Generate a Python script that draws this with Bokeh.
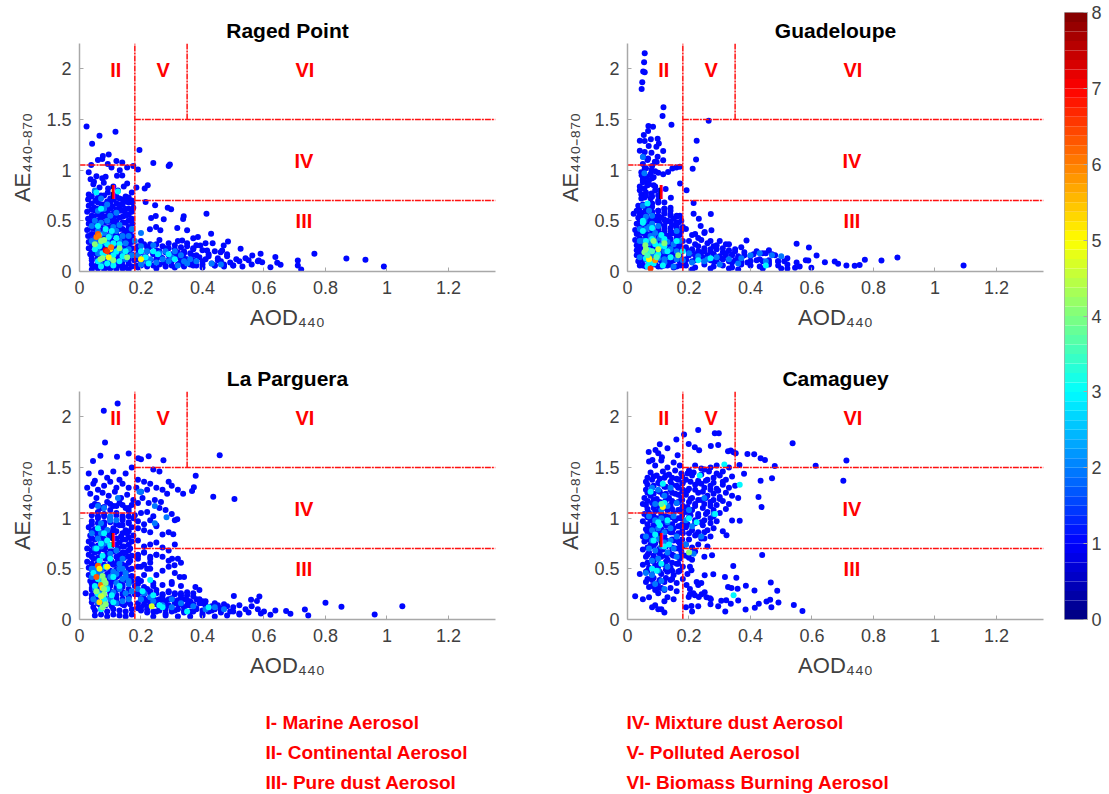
from bokeh.plotting import figure
from bokeh.layouts import row, column
from bokeh.models import Range1d, FixedTicker, LinearColorMapper, ColumnDataSource
from bokeh.core.properties import value
from bokeh.embed import file_html
from bokeh.resources import INLINE

FONT = "Liberation Sans"
x_ticks = [0, .2, .4, .6, .8, 1, 1.2]
x_tick_labels = ["0", "0.2", "0.4", "0.6", "0.8", "1", "1.2"]
y_ticks = [0, .5, 1, 1.5, 2]
y_tick_labels = ["0", "0.5", "1", "1.5", "2"]
cbar_ticks = [0, 1, 2, 3, 4, 5, 6, 7, 8]
legend_left = ["I- Marine Aerosol", "II- Continental Aerosol", "III- Pure dust Aerosol"]
legend_right = ["IV- Mixture dust Aerosol", "V- Polluted Aerosol", "VI- Biomass Burning Aerosol"]
region_names = ["I", "II", "III", "IV", "V", "VI"]
region_aod = [.11, .118, .73, .73, .272, .733]
region_ae = [.785, 1.99, .498, 1.09, 1.99, 1.99]
# class thresholds
aod_low, aod_high, ae_low, ae_mid, ae_high = .18, .35, .7, 1.05, 1.5

# ---------- Raged Point
rp_aod0 = [.04,.06,.08,.1,.12,.14,.16, .04,.06,.08,.1,.12,.14,.16, .04,.06,.08,.1,.12,.14,.16, .04,.06,.08,.1,.12,.14,.16, .04,.06,.08,.1,.12,.14,.16,
 .04,.06,.08,.1,.12,.14,.16, .04,.06,.08,.1,.12,.14,.16, .04,.06,.08,.1,.12,.14,.16, .04,.06,.08,.1,.12,.14,.16, .04,.06,.08,.1,.12,.14,.16,
 .04,.06,.08,.1,.12,.14,.16, .04,.06,.08,.1,.12,.14,.16, .04,.06,.08,.1,.12,.14,.16,
 .19,.21,.23,.25,.27,.29,.31,.33,.35,.37, .2,.22,.24,.26,.28,.3,.32,.34,.36,.38,.42, .19,.21,.23,.25,.27,.29,.31,.33,.35,.37,.41,.45, .2,.22,.24,.26,.28,.3,.32,.34,.36,.38,.4,.44,.47,.5]
rp_ae0 = [.74,.73,.75,.72,.74,.71,.73, .67,.68,.66,.68,.67,.66,.68, .61,.62,.6,.62,.61,.6,.62, .55,.56,.54,.56,.55,.54,.56, .49,.5,.48,.5,.49,.48,.5,
 .43,.44,.42,.44,.43,.42,.44, .37,.38,.36,.38,.37,.36,.38, .31,.32,.3,.32,.31,.3,.32, .25,.26,.24,.26,.25,.24,.26, .19,.2,.18,.2,.19,.18,.2,
 .13,.14,.12,.14,.13,.12,.14, .07,.08,.06,.08,.07,.06,.08, .02,.03,.02,.03,.02,.03,.02,
 .25,.27,.24,.27,.25,.23,.26,.24,.25,.23, .19,.2,.18,.2,.19,.17,.19,.18,.18,.16,.17, .12,.13,.11,.12,.13,.11,.13,.12,.12,.11,.12,.11, .06,.07,.06,.07,.06,.06,.07,.06,.07,.06,.07,.06,.07,.06]
rp_aod1 = [.023,.065,.117,.041,.195,.24,.29,.294,.095,.076,.074,.06,.12,.139,.038,.092,.175,.155,.19,.131,.104,
 .03,.036,.055,.074,.085,.122,.139,.047,.079,.155,.144,.093,.185,.222,.212,.045,.065,.11,.125,.17,
 .413,.339,.337,.287,.298,.246,.215,.274,.248,.233,.318,.35,.428,.249,.229,.263,.385,.37,.41,.433,.483,.469,.524,.334,.393,.415,.459,.464,.562,.589,.583,.594,.637,.654,.621,.643,.71,.71,.721,.764,.868,.93,.99,
 .2,.23,.26,.29,.32,.35,.38,.19,.22,.25,.28,.31,.34,.37,.4,.44,.48,
 .19,.215,.24,.265,.29,.315,.34,.365,.39,.42,.45,.48,.51,.54,
 .2,.225,.25,.275,.3,.325,.35,.375,.4,.43,.46,.49,.52,.55,.58,
 .19,.22,.25,.28,.31,.34,.37,.4,.44,.47,.5,.53,.56,
 .03,.05,.07,.092,.11,.13,.15,.17, .028,.052,.068,.09,.112,.128,.152,.172, .03,.048,.072,.088,.108,.132,.148,.175,
 .025,.05,.07,.09,.112,.13,.15,.17, .028,.046,.07,.092,.11,.13,.152,.17, .03,.05,.068,.09,.11,.128,.15,.172,
 .025,.05,.07,.09,.11,.13,.15,.17, .028,.05,.07,.09,.11,.13,.15,.17, .03,.05,.07,.09,.11,.13,.15,.17,
 .03,.05,.07,.09,.11,.13,.15,.17, .035,.05,.07,.09,.11,.13,.15,.17, .04,.06,.08,.1,.12,.14,.16,.178, .05,.07,.09,.11,.13,.15,.17,.185]
rp_ae1 = [1.43,1.34,1.38,1.26,1.2,1.07,1.04,1.056,1.155,1.14,1.11,1.1,1.09,1.076,1.05,1.06,1.04,1.026,1.006,1.0,1.026,
 .98,.91,.94,.92,.934,.944,.947,.885,.875,.868,.84,.818,.828,.85,.818,.86,.83,.84,.8,.78,
 .571,.545,.518,.63,.614,.653,.686,.515,.548,.528,.429,.406,.373,.439,.416,.406,.34,.327,.28,.28,.297,.257,.224,.307,.257,.208,.19,.208,.158,.175,.109,.092,.142,.066,.043,.086,.109,.059,.02,.175,.129,.115,.05,
 .3,.27,.31,.28,.3,.28,.26,.22,.24,.21,.23,.22,.2,.22,.21,.2,.17,
 .17,.15,.17,.14,.16,.15,.13,.16,.14,.15,.13,.15,.12,.13,
 .1,.08,.11,.09,.1,.08,.11,.09,.1,.08,.1,.09,.1,.11,.1,
 .04,.05,.03,.05,.04,.05,.06,.04,.06,.05,.06,.05,.07,
 .76,.79,.75,.78,.76,.72,.74,.7, .71,.7,.72,.69,.71,.66,.69,.68, .65,.63,.66,.62,.64,.65,.62,.63,
 .59,.6,.57,.6,.58,.6,.57,.59, .52,.54,.53,.55,.52,.53,.55,.52, .47,.48,.46,.49,.47,.46,.48,.47,
 .41,.42,.4,.43,.41,.42,.4,.41, .35,.36,.34,.35,.36,.34,.36,.35, .29,.3,.28,.3,.29,.28,.3,.29,
 .23,.24,.22,.24,.23,.22,.24,.23, .17,.18,.16,.18,.17,.16,.18,.17, .11,.12,.1,.11,.12,.1,.12,.11, .05,.06,.04,.05,.06,.04,.05,.06]
rp_aod2 = [.05,.07,.09,.06,.08,.1,.12,.05,.07,.09,.11,.13,.06,.08,.1,.12,.14,.05,.07,.09,.11,.13,.15,.06,.08,.1,.12,.14,.16,.18,.2,.22,.24,.19,.21,.23,.26,.28,.3,.33,.36,.25,.29,.32,.35,.38,.43,.46,.2,.17,.04,.06,.04,.15,.17,.11,.07,.16,.31,.27,.34,.2,.22]
rp_ae2 = [.8,.72,.66,.6,.62,.55,.58,.5,.48,.5,.44,.46,.4,.38,.36,.4,.35,.3,.28,.3,.27,.3,.28,.2,.18,.22,.19,.2,.22,.3,.25,.2,.26,.16,.14,.12,.18,.2,.14,.16,.12,.09,.1,.06,.08,.1,.08,.07,.38,.42,.45,.18,.3,.12,.16,.09,.07,.35,.2,.12,.1,.07,.1]
rp_aod3 = [.055,.07,.06,.085,.075,.095,.065,.11,.12,.08,.1,.13,.09,.14,.06,.11,.2,.215,.24,.29,.31,.225,.255,.125,.105,.05,.075,.09,.11,.13,.15,.07,.065,.12]
rp_ae3 = [.78,.62,.45,.42,.3,.34,.25,.28,.2,.17,.13,.27,.08,.15,.1,.06,.2,.14,.2,.17,.12,.08,.17,.79,.4,.22,.18,.27,.16,.1,.2,.05,.36,.33]
rp_hot_aod = [.055,.06,.063,.07,.1,.085,.09,.095,.075,.103,.068,.2,.155,.05,.13,.11,.08]
rp_hot_ae = [.34,.37,.35,.3,.22,.21,.2,.14,.13,.24,.12,.12,.14,.27,.23,.11,.31]
rp_hot_den = [6,6.3,6,4,5,7,6.5,5,4,6,4,5,4,4,4,4,4]

# ---------- Guadeloupe
gl_aod0 = [.04,.06,.08,.1,.12,.14, .04,.06,.08,.1,.12,.14,.16, .04,.06,.08,.1,.12,.14,.16, .04,.06,.08,.1,.12,.14,.16, .04,.06,.08,.1,.12,.14,.16,
 .04,.06,.08,.1,.12,.14,.16, .04,.06,.08,.1,.12,.14,.16, .04,.06,.08,.1,.12,.14,.16, .04,.06,.08,.1,.12,.14,.16, .04,.06,.08,.1,.12,.14,.16, .05,.07,.09,.11,.13,.15,.17,
 .19,.21,.23,.25,.27,.29,.31,.33,.35, .2,.22,.24,.26,.28,.3,.32,.34,.36,.38,.41,.45,.47, .19,.21,.23,.25,.27,.29,.31,.33,.35,.37,.39,.42,.44,.46,.49,.51,
 .05,.065,.08,.095,.045,.06,.075,.09,.05,.065,.08]
gl_ae0 = [.63,.62,.64,.6,.62,.63, .57,.56,.58,.55,.57,.56,.54, .51,.5,.52,.5,.51,.49,.48, .45,.44,.46,.44,.45,.43,.44, .39,.38,.4,.38,.39,.37,.38,
 .33,.34,.32,.34,.33,.32,.34, .28,.27,.29,.27,.28,.26,.27, .23,.22,.24,.22,.23,.21,.23, .18,.17,.19,.17,.18,.16,.18, .13,.12,.14,.12,.13,.11,.13, .06,.05,.07,.05,.06,.04,.06,
 .22,.21,.2,.23,.2,.22,.19,.21,.2, .16,.17,.15,.16,.17,.15,.16,.17,.15,.16,.17,.18,.17, .11,.1,.12,.1,.11,.1,.12,.1,.11,.1,.09,.11,.1,.09,.1,.1,
 1.06,1.1,1.04,1.08,.76,.78,.72,.8,.9,.88,.92]
gl_aod1 = [.056,.054,.051,.056,.048,.046,.117,.114,.143,.264,.068,.083,.067,.053,.04,.056,.076,.098,.102,.094,.116,.04,.056,.069,.078,.098,.116,.051,.067,.089,
 .225,.223,.212,.17,.159,.146,.132,.116,.1,.078,.056,.046,.062,.171,.192,.124,.141,.05,.04,.065,.085,.055,.078,.1,
 .215,.215,.232,.271,.238,.251,.273,.22,.387,.55,.59,.615,.772,.826,.878,1.093,.712,.739,.755,.685,.674,.642,.598,.588,.545,.52,
 .045,.06,.075,.09,.05,.07,.085,.04,.055,.07,.09,.105,.045,.06,.08,.1,.12,
 .19,.21,.23,.25,.27,.2,.22,.24,.26,.28,.3,.32,.19,.21,.23,.25,.27,.29,.31,.33,.35,.37,
 .2,.22,.24,.26,.28,.3,.32,.34,.36,.38,.4,.42,.44,.46,.48,.19,.22,.25,.28,.31,.34,.37,.4,.43,.46,.49,.52,.55,.58,
 .19,.22,.25,.28,.31,.34,.37,.4,.43,.46,.49,.52,.21,.27,.33,.36,.44,.5,.56,
 .02,.035,.05,.065,.08,.1,.12,.14,.16, .03,.045,.06,.08,.1,.12,.14,.17, .035,.05,.07,.09,.11,.13,.15,.175, .03,.045,.065,.085,.105,.125,.145,.165,.18,
 .025,.04,.06,.08,.1,.12,.14,.16,.175, .03,.05,.07,.09,.11,.13,.15,.17, .025,.04,.06,.08,.1,.12,.14,.16,.18, .03,.05,.07,.09,.11,.13,.15,.17,
 .03,.05,.07,.09,.11,.13,.15,.17, .03,.05,.07,.09,.11,.13,.15,.17, .035,.05,.07,.09,.11,.13,.15,.17, .04,.06,.08,.1,.12,.14,.16,.18]
gl_ae1 = [2.155,2.066,1.974,1.967,1.868,1.802,1.62,1.535,1.449,1.488,1.436,1.429,1.386,1.347,1.29,1.287,1.304,1.31,1.264,1.231,1.188,1.191,1.18,1.238,1.172,1.132,1.099,1.132,1.115,1.082,
 1.29,1.106,1.013,1.033,1.026,1.016,.983,.96,.974,1.0,1.016,.95,.934,.868,.802,.815,.729,.88,.802,.85,.85,.73,.77,.75,
 .677,.571,.521,.568,.449,.389,.406,.37,.307,.274,.238,.158,.116,.109,.139,.06,.059,.056,.063,.076,.099,.092,.036,.109,.036,.03,
 .98,1.02,.96,.99,.91,.9,.93,.84,.82,.86,.84,.8,.72,.75,.74,.7,.68,
 .42,.36,.33,.38,.3,.3,.27,.31,.28,.25,.3,.27,.24,.22,.25,.2,.22,.26,.23,.27,.22,.24,
 .18,.16,.19,.15,.17,.14,.18,.16,.13,.19,.15,.2,.18,.21,.16,.12,.11,.13,.1,.12,.09,.13,.1,.12,.11,.1,.13,.09,.11,
 .06,.04,.07,.05,.06,.04,.07,.06,.05,.07,.06,.07,.02,.03,.03,.02,.03,.03,.05,
 .57,.65,.66,.63,.67,.68,.62,.6,.55, .6,.58,.61,.59,.6,.58,.55,.55, .53,.55,.52,.54,.53,.5,.52,.5, .47,.49,.48,.5,.47,.49,.46,.48,.44,
 .41,.43,.42,.44,.41,.42,.4,.43,.4, .37,.38,.36,.38,.37,.35,.38,.36, .31,.32,.3,.33,.31,.32,.3,.32,.3, .26,.27,.25,.27,.26,.25,.27,.26,
 .21,.22,.2,.22,.21,.2,.22,.21, .16,.17,.15,.17,.16,.15,.17,.16, .1,.11,.09,.11,.1,.09,.11,.1, .06,.05,.07,.05,.06,.07,.05,.06]
gl_aod2 = [.05,.07,.055,.08,.06,.04,.075,.09,.105,.05,.07,.09,.11,.13,.15,.17,.06,.08,.1,.12,.14,.16,.04,.06,.08,.1,.12,.14,.16,.18,.2,.23,.26,.29,.33,.37,.4,.43,.47,.5,.45,.36,.21,.3,.05,.055,.06,.08,.1,.04,.07,.09,.12,.15,.16,.25]
gl_ae2 = [.65,.6,.5,.47,.42,.42,.35,.38,.33,.3,.28,.3,.27,.29,.27,.3,.22,.2,.23,.2,.22,.2,.14,.12,.15,.13,.12,.14,.12,.11,.18,.15,.12,.14,.12,.13,.16,.18,.16,.15,.1,.08,.09,.07,1.13,.97,.54,.55,.45,.3,.44,.16,.09,.05,.4,.1]
gl_aod3 = [.05,.08,.06,.11,.09,.12,.07,.1,.13,.06,.085,.14,.115,.065,.105,.16,.18,.45,.27,.23,.05,.065,.05,.08,.12,.095,.07]
gl_ae3 = [.48,.43,.3,.36,.27,.25,.21,.17,.2,.13,.08,.14,.06,.05,.25,.3,.2,.06,.13,.11,.5,.67,.4,.32,.32,.15,.09]
gl_hot_aod = [.06,.07,.055,.09,.085,.075,.07,.1,.058,.12,.165,.08,.095,.065]
gl_hot_ae = [.22,.13,.19,.11,.3,.03,.12,.22,.26,.28,.16,.2,.14,.16]
gl_hot_den = [4,5.3,4,5.8,4,6.5,5,4.5,4,4,4,3.6,3.6,3.6]

# ---------- La Parguera
lp_aod0 = [.04,.06,.08,.1,.12,.14,.16, .04,.06,.08,.1,.12,.14,.16, .04,.06,.08,.1,.12,.14,.16, .04,.06,.08,.1,.12,.14,.16, .04,.06,.08,.1,.12,.14,.16, .04,.06,.08,.1,.12,.14,.16,
 .04,.06,.08,.1,.12,.14,.16, .04,.06,.08,.1,.12,.14,.16, .04,.06,.08,.1,.12,.14,.16, .04,.06,.08,.1,.12,.14,.16, .04,.06,.08,.1,.12,.14,.16, .04,.06,.08,.1,.12,.14,.16,
 .04,.06,.08,.1,.12,.14,.16, .04,.06,.08,.1,.12,.14,.16, .04,.06,.08,.1,.12,.14,.16, .05,.07,.09,.11,.13,.15,.17, .05,.07,.09,.11,.13,.15,.17,
 .19,.21,.23,.25,.27,.29,.31,.33,.35, .2,.22,.24,.26,.28,.3,.32,.34,.36,.38,.4, .19,.21,.23,.25,.27,.29,.31,.33,.35,.37,.39,.41,.43,.45,.47, .2,.22,.24,.26,.28,.3,.32,.34,.36,.38,.4,.42,.44,.46,.5,
 .19,.2,.21,.22,.23,.19,.2,.22,.24,.19,.21,.23,.25,.19,.21,.23,.25]
lp_ae0 = [1.12,1.13,1.11,1.14,1.12,1.13,1.1, 1.03,1.02,1.04,1.01,1.03,1.0,1.02, .94,.95,.93,.96,.94,.93,.95, .87,.86,.88,.86,.87,.85,.87, .8,.81,.79,.81,.8,.79,.81, .74,.73,.75,.73,.74,.72,.74,
 .68,.67,.69,.67,.68,.66,.68, .62,.61,.63,.61,.62,.6,.62, .55,.56,.54,.56,.55,.54,.56, .49,.48,.5,.48,.49,.47,.49, .42,.41,.43,.41,.42,.4,.42, .35,.36,.34,.36,.35,.34,.36,
 .29,.28,.3,.28,.29,.27,.29, .21,.22,.2,.22,.21,.2,.22, .17,.16,.18,.16,.17,.15,.17, .09,.1,.08,.1,.09,.08,.1, .04,.05,.03,.05,.04,.03,.05,
 .27,.25,.28,.26,.24,.27,.25,.26,.24, .2,.19,.21,.2,.18,.21,.19,.2,.18,.2,.18, .16,.15,.17,.15,.16,.14,.16,.15,.14,.15,.16,.14,.13,.14,.15, .09,.1,.08,.09,.1,.08,.1,.09,.08,.1,.09,.08,.1,.09,.08,
 .6,.52,.44,.5,.56,.35,.38,.3,.33,.97,.94,.98,.93,.64,.66,.62,.64]
lp_aod1 = [.124,.079,.083,.068,.044,.122,.16,.191,.2,.225,.273,.456,.378,.372,.366,.337,.435,.504,.318,.305,.301,.309,.326,.377,.502,.585,.558,.577,.8,.852,.733,.744,.672,.686,.637,.621,.96,1.05,
 .03,.05,.07,.09,.11,.13,.15,.17, .025,.045,.06,.08,.1,.12,.14,.16, .035,.055,.075,.095,.115,.135,.155,.175, .05,.07,.09,.11,.13,.15,.17, .06,.08,.1,.12,.14,.16,.18,
 .04,.06,.08,.1,.12,.14,.16,.175, .03,.05,.07,.09,.11,.13,.15,.17, .035,.055,.075,.095,.115,.135,.155,.175, .03,.05,.07,.09,.11,.13,.15,.17,
 .025,.045,.065,.085,.105,.125,.145,.165, .03,.05,.07,.09,.11,.13,.15,.17, .025,.045,.065,.085,.105,.125,.145,.165, .03,.05,.07,.09,.11,.13,.15,.17,
 .03,.05,.07,.09,.11,.13,.15,.17, .035,.05,.07,.09,.11,.13,.15,.17, .02,.04,.06,.08,.1,.12,.14,.16,.18, .04,.06,.08,.1,.12,.14,.16,.18, .045,.065,.085,.105,.125,.145,.165,
 .185,.2,.22,.24,.26,.19,.21,.23,.25,.27,.29,.19,.205,.225,.245,.265,.285,.3,.32,.2,.22,.24,.26,.28,.3,.19,.21,.23,.25,.27,.29,.31,
 .19,.21,.23,.25,.27,.29,.31,.19,.21,.23,.25,.27,.29,.32,.33,.19,.21,.23,.25,.27,.29,.31,.34,.19,.21,.24,.27,.3,.33,.3,
 .19,.21,.23,.25,.27,.29,.31,.33,.35,.37,.39,.19,.21,.23,.25,.27,.29,.31,.33,.35,.37,.39,.41,.44,
 .2,.22,.24,.26,.28,.3,.32,.34,.36,.38,.4,.42,.44,.46,.48,.5,.52,.54,.56,.58,.19,.22,.25,.28,.31,.34,.37,.4,.43,.46,.49,.52,.55,.6,.59,
 .2,.24,.28,.32,.36,.4,.44,.48,.52]
lp_ae1 = [2.132,2.059,1.746,1.617,1.564,1.607,1.637,1.591,1.581,1.611,1.571,1.62,1.419,1.304,1.267,1.241,1.211,1.188,.99,.842,.6,.535,.419,.32,.231,.228,.195,.182,.165,.125,.099,.04,.083,.056,.089,.046,.05,.13,
 1.44,1.37,1.45,1.4,1.46,1.38,1.44,1.5, 1.3,1.34,1.28,1.32,1.36,1.3,1.34,1.3, 1.24,1.2,1.25,1.22,1.26,1.2,1.23,1.18, 1.14,1.1,1.16,1.12,1.15,1.1,1.13, 1.06,1.02,1.08,1.05,1.02,1.07,1.03,
 .97,1.0,.96,.99,.95,.98,.96,1.0, .91,.89,.92,.88,.9,.93,.88,.91, .83,.85,.82,.84,.86,.82,.85,.83, .77,.79,.76,.78,.8,.76,.79,.77,
 .7,.72,.69,.71,.73,.7,.72,.7, .64,.66,.63,.65,.67,.64,.66,.63, .57,.6,.58,.6,.57,.59,.61,.58, .51,.53,.5,.52,.54,.51,.53,.5,
 .44,.46,.43,.45,.47,.44,.46,.43, .38,.39,.37,.4,.38,.36,.39,.38, .26,.31,.32,.3,.33,.31,.32,.3,.33, .24,.25,.23,.26,.24,.25,.23,.25, .12,.15,.14,.13,.16,.14,.15,
 1.3,1.26,1.28,1.48,1.46,1.38,1.36,1.34,1.3,1.28,1.36,1.15,1.2,1.15,1.18,1.16,1.24,1.32,1.28,1.05,1.06,1.02,1.1,1.08,1.04,.9,.88,.86,.92,.84,.86,.98,
 .78,.72,.74,.76,.71,.68,.74,.63,.66,.6,.64,.62,.58,.6,.56,.52,.54,.5,.44,.48,.52,.46,.42,.38,.32,.36,.34,.37,.33,.35,.4,
 .28,.26,.29,.25,.28,.26,.24,.27,.26,.29,.25,.2,.22,.19,.21,.2,.18,.21,.19,.23,.2,.18,.16,.2,
 .13,.15,.12,.14,.11,.15,.12,.14,.11,.16,.12,.14,.11,.13,.12,.14,.1,.13,.1,.11,.07,.08,.06,.09,.07,.08,.06,.09,.07,.08,.06,.07,.08,.06,.12,
 .03,.04,.03,.03,.04,.03,.04,.05,.05]
lp_aod2 = [.06,.08,.1,.125,.07,.09,.04,.06,.08,.05,.07,.1,.12,.14,.05,.07,.09,.11,.13,.15,.04,.06,.08,.1,.12,.14,.16,.05,.07,.09,.11,.13,.15,.045,.06,.08,.1,.12,.14,.16,.19,.21,.23,.2,.24,.27,.3,.33,.37,.41,.44,.47,.2,.195,.3,.245,.283,.245,.04,.05,.06,.13,.15,.14,.12,.16,.17,.1,.12,.07]
lp_ae2 = [1.12,1.1,.98,1.2,.95,.88,.85,.8,.75,.7,.72,.65,.68,.6,.5,.48,.52,.47,.5,.46,.42,.4,.38,.42,.36,.4,.38,.3,.28,.32,.27,.3,.26,.2,.17,.19,.2,.16,.18,.2,.3,.26,.22,.2,.18,.14,.2,.16,.13,.1,.12,.1,1.26,1.26,.12,1.12,1.01,.95,.5,.47,.44,.55,.42,.5,.45,.35,.28,1.02,.98,.85]
lp_aod3 = [.06,.08,.09,.055,.075,.1,.065,.085,.11,.07,.09,.06,.08,.105,.07,.045,.13,.23,.24,.205,.27,.35,.42,.26,.07,.1,.06,.085,.11,.05]
lp_ae3 = [.9,.85,.78,.7,.63,.73,.58,.52,.42,.35,.3,.25,.2,.24,.1,.46,.33,.39,.24,.28,.12,.08,.12,.14,.75,.6,.4,.15,.17,.33]
lp_hot_aod = [.06,.055,.065,.07,.075,.09,.08,.085,.065,.075,.08,.055,.07,.235,.085,.08,.075]
lp_hot_ae = [.53,.42,.5,.34,.31,.52,.3,.36,.17,.12,.25,.28,.23,.13,.15,.39,.43]
lp_hot_den = [6.3,6.3,5,6,5.2,5,4,4,5.3,4,4,4,4.5,4.7,4,4,4]

# ---------- Camaguey
cm_aod0 = [.065,.085,.105,.125,.145,.165,.178, .065,.085,.105,.125,.145,.165,.178, .065,.085,.105,.125,.145,.165,.178, .065,.085,.105,.125,.145,.165,.178, .065,.085,.105,.125,.145,.165,.178,
 .065,.085,.105,.125,.145,.165,.178, .065,.085,.105,.125,.145,.165,.178, .065,.085,.105,.125,.145,.165,.178, .065,.085,.105,.125,.145,.165,.178, .065,.085,.105,.125,.145,.165,.178,
 .065,.085,.105,.125,.145,.165,.178, .065,.085,.105,.125,.145,.165, .065,.085,.105,.125,.145,.165, .065,.085,.105,.125,.145,
 .195,.215,.24,.265,.29, .205,.23,.255,.28,.31, .195,.22,.245,.27,.295, .205,.23,.255,.28,.3, .195,.22,.245,.27, .205,.23,.255,.28, .195,.22,.245,.27, .2,.225,.25]
cm_ae0 = [1.4,1.41,1.39,1.42,1.4,1.38,1.41, 1.33,1.32,1.34,1.31,1.33,1.3,1.34, 1.25,1.24,1.26,1.24,1.25,1.23,1.26, 1.17,1.18,1.16,1.18,1.17,1.16,1.18, 1.09,1.1,1.08,1.1,1.09,1.08,1.1,
 1.01,1.02,1.0,1.02,1.01,1.0,1.03, .94,.93,.95,.93,.94,.92,.94, .86,.87,.85,.87,.86,.85,.87, .79,.78,.8,.78,.79,.77,.79, .71,.72,.7,.72,.71,.7,.72,
 .64,.63,.65,.63,.64,.62,.64, .56,.57,.55,.57,.56,.55, .48,.49,.47,.49,.48,.47, .4,.41,.39,.41,.4,
 1.44,1.45,1.43,1.46,1.44, 1.36,1.35,1.37,1.35,1.36, 1.27,1.28,1.26,1.28,1.27, 1.19,1.18,1.2,1.18,1.19, 1.11,1.12,1.1,1.12, 1.03,1.02,1.04,1.02, .94,.95,.93,.95, .85,.84,.86]
cm_aod1 = [.23,.284,.297,.184,.159,.105,.199,.219,.233,.271,.295,.13,.091,.069,.1,.112,.163,.081,.537,.712,.612,.702,.479,.447,.433,.412,.39,.336,.327,.345,.352,.364,.379,.433,.47,.426,.436,.322,.34,.365,.275,.438,.344,.317,.354,.466,.385,.413,.487,.327,.338,.358,.36,.491,.464,.452,.427,.414,.468,.384,.541,.569,.318,.336,.321,.305,.295,.27,.271,.208,
 .251,.279,.24,.23,.225,.208,.203,.195,.192,.203,.214,.199,.203,.219,.232,.241,.251,.257,.268,
 .07,.09,.11,.13,.15,.17,.075,.095,.115,.135,.155,.175,.06,.08,.1,.12,.14,.16,.18, .06,.08,.1,.12,.14,.16,.18, .055,.075,.095,.115,.135,.155,.175, .06,.08,.1,.12,.14,.16,.18,
 .05,.07,.09,.11,.13,.15,.17, .055,.075,.095,.115,.135,.155,.175, .05,.07,.09,.11,.13,.15,.17, .06,.08,.1,.12,.14,.16,.18, .05,.07,.09,.11,.13,.15,.17, .055,.075,.095,.115,.135,.155,.175,
 .05,.07,.09,.11,.13,.15,.17, .06,.08,.1,.12,.14,.16,.18, .05,.07,.09,.11,.13,.15,.17, .04,.06,.08,.1,.12,.14,.16,.18, .06,.08,.1,.12,.14,.16, .07,.09,.11,.13,.15, .025,.05,.07,.08,.1,.12, .08,.09,.1,.11,.12,
 .19,.21,.23,.25,.27,.29,.31,.33,.2,.22,.24,.26,.28,.3,.32,.34,.19,.21,.23,.25,.27,.29,.31,.33,.35,.2,.22,.24,.26,.28,.3,.32,.34,.36,.19,.21,.23,.25,.27,.29,.31,.33,.2,.22,.24,.26,.28,.3,.32,
 .19,.21,.23,.25,.27,.29,.2,.22,.24,.26,.28,.31,.19,.21,.23,.25,.27,.2,.22,.24,.26,.19,.21,.23,.2,.22,.25,.19,.21,.2]
cm_ae1 = [1.871,1.838,1.838,1.825,1.776,1.729,1.733,1.7,1.67,1.713,1.723,1.69,1.673,1.653,1.64,1.6,1.62,1.574,1.739,1.568,1.518,1.37,1.515,1.574,1.591,1.63,1.634,1.667,1.66,1.65,1.64,1.525,1.439,1.37,1.393,1.208,1.109,.832,.977,.974,.634,.637,.528,.419,.413,.366,.333,.287,.284,.32,.31,.304,.188,.168,.195,.178,.155,.116,.122,.099,.142,.083,.079,.155,.19,.185,.13,.15,.2,.132,
 .436,.446,.36,.34,.37,.485,.52,.45,.34,.3,.26,.221,.25,.24,.221,.25,.27,.22,.21,
 1.56,1.52,1.57,1.5,1.55,1.52,1.45,1.42,1.46,1.43,1.47,1.44,1.36,1.38,1.35,1.4,1.36,1.39,1.35, 1.28,1.3,1.27,1.31,1.28,1.32,1.28, 1.2,1.22,1.19,1.23,1.2,1.24,1.2, 1.13,1.15,1.12,1.16,1.13,1.15,1.12,1.14,
 1.05,1.07,1.04,1.08,1.05,1.07,1.04, .98,1.0,.97,1.01,.98,1.0,.97, .9,.92,.89,.93,.9,.92,.89, .83,.85,.82,.86,.83,.85,.82,.84, .75,.77,.74,.78,.75,.77,.74, .67,.69,.66,.7,.67,.69,.66,
 .6,.62,.59,.63,.6,.62,.59, .52,.54,.51,.55,.52,.54,.51,.53, .45,.47,.44,.48,.45,.47,.44, .31,.37,.39,.36,.4,.37,.39,.36, .29,.31,.28,.32,.29,.31, .22,.2,.23,.2,.22, .33,.26,.18,.12,.14,.1, .1,.07,.12,.08,.13,
 1.48,1.5,1.52,1.46,1.5,1.47,1.52,1.49,1.38,1.4,1.42,1.38,1.41,1.38,1.42,1.37,1.3,1.32,1.29,1.33,1.3,1.32,1.29,1.33,1.34,1.22,1.24,1.21,1.25,1.22,1.2,1.23,1.2,1.25,1.14,1.16,1.13,1.17,1.14,1.16,1.14,1.18,1.06,1.08,1.05,1.09,1.06,1.08,1.04,
 .98,1.0,.97,1.01,.98,.96,.88,.9,.87,.91,.88,.86,.8,.82,.79,.83,.8,.72,.74,.71,.74,.65,.67,.62,.63,.59,.61,.52,.55,.43]
cm_aod2 = [.08,.1,.12,.14,.09,.11,.13,.16,.07,.09,.11,.13,.15,.08,.1,.12,.14,.06,.08,.1,.12,.14,.16,.07,.09,.11,.13,.15,.08,.1,.06,.08,.1,.13,.21,.24,.2,.25,.28,.19,.16,.19,.215,.11,.09,.12]
cm_ae2 = [1.3,1.28,1.22,1.3,1.14,1.08,1.12,1.15,1.02,.98,1.0,.96,1.02,.88,.9,.86,.9,.82,.78,.8,.76,.78,.82,.7,.68,.72,.66,.7,.58,.6,.46,.44,.48,.52,.92,.82,1.08,1.2,1.04,.98,.62,.74,.65,.38,.35,.3]
cm_aod3 = [.075,.115,.12,.09,.13,.085,.1,.105,.12,.135,.08,.095,.11,.315,.2,.365,.285,.235,.225,.345]
cm_ae3 = [1.26,1.34,1.15,.84,.98,.78,.96,.93,.72,.74,.5,.48,.55,1.53,1.0,1.33,1.04,1.42,.96,.24]
cm_hot_aod = [.115,.2,.11]
cm_hot_ae = [1.11,.66,1.14]
cm_hot_den = [5,4,3.6]


def jet(n):
    out = []
    for i in range(n):
        t = (i + .5) / n
        r = min(max(min(4 * t - 1.5, -4 * t + 4.5), 0), 1)
        g = min(max(min(4 * t - .5, -4 * t + 3.5), 0), 1)
        b = min(max(min(4 * t + .5, -4 * t + 2.5), 0), 1)
        out.append("#%02x%02x%02x" % (int(r * 255), int(g * 255), int(b * 255)))
    return out


palette = jet(64)
mapper = LinearColorMapper(palette=palette, low=0, high=8)
GRAY = "#a8a8a8"
TXT = "#404040"


def panel(title, groups, left_border, right_border, top_border, bottom_border):
    p = figure(frame_width=416, frame_height=228, min_border_left=left_border, min_border_right=right_border,
               min_border_top=top_border, min_border_bottom=bottom_border, x_range=Range1d(0, 1.353),
               y_range=Range1d(0, 2.25), output_backend="svg", toolbar_location=None, title=title,
               outline_line_color=None, x_axis_label="AOD\u2084\u2084\u2080",
               y_axis_label="AE\u2084\u2084\u2080\u208b\u2088\u2087\u2080")
    p.title.align = "center"
    p.title.text_font = FONT
    p.title.text_font_size = "21px"
    p.title.text_font_style = "bold"
    p.title.text_color = "black"
    p.title.standoff = 3
    p.grid.visible = False
    for ax, ticks, labels in ((p.xaxis[0], x_ticks, x_tick_labels), (p.yaxis[0], y_ticks, y_tick_labels)):
        ax.ticker = FixedTicker(ticks=ticks)
        ax.major_label_overrides = dict(zip(ticks, labels))
        ax.minor_tick_line_color = None
        ax.major_tick_in = 4
        ax.major_tick_out = 0
        ax.major_tick_line_color = GRAY
        ax.axis_line_color = GRAY
        ax.axis_line_width = 1.5
        ax.major_label_text_font = FONT
        ax.major_label_text_font_size = "18px"
        ax.major_label_text_color = TXT
        ax.axis_label_text_font = FONT
        ax.axis_label_text_font_size = "22px"
        ax.axis_label_text_font_style = "normal"
        ax.axis_label_text_color = TXT
    p.xaxis[0].major_label_standoff = 9
    p.yaxis[0].major_label_standoff = 8
    p.xaxis[0].axis_label_standoff = 8
    p.yaxis[0].axis_label_standoff = 8

    for xs, ys, dens in groups:
        n = min(len(xs), len(ys), len(dens))
        src = ColumnDataSource(dict(x=xs[:n], y=ys[:n], density=dens[:n]))
        p.scatter("x", "y", source=src, size=6, line_color=None,
                  fill_color={"field": "density", "transform": mapper})

    p.segment(x0=[aod_low, aod_high, aod_low, aod_low, 0], y0=[0, ae_high, ae_high, ae_low, ae_mid],
              x1=[aod_low, aod_high, 1.353, 1.353, aod_low], y1=[2.25, 2.25, ae_high, ae_low, ae_mid],
              line_color="#ff1010", line_width=1.5, line_dash="6 1 2 1")
    p.text(region_aod, region_ae, text=region_names, text_color="#ff0000", text_font=value(FONT),
           text_font_style="bold", text_font_size="20px", text_align="center", text_baseline="middle")
    return p


def groups(a0, e0, a1, e1, a2, e2, a3, e3, ha, he, hd):
    return [(a0, e0, [1.05] * len(a0)), (a1, e1, [1.05] * len(a1)), (a2, e2, [1.9] * len(a2)),
            (a3, e3, [2.9] * len(a3)), (ha, he, hd)]


pa = panel("Raged Point", groups(rp_aod0, rp_ae0, rp_aod1, rp_ae1, rp_aod2, rp_ae2, rp_aod3, rp_ae3, rp_hot_aod, rp_hot_ae, rp_hot_den), 79, 60, 43, 85)
pb = panel("Guadeloupe", groups(gl_aod0, gl_ae0, gl_aod1, gl_ae1, gl_aod2, gl_ae2, gl_aod3, gl_ae3, gl_hot_aod, gl_hot_ae, gl_hot_den), 71, 10, 43, 85)
pc = panel("La Parguera", groups(lp_aod0, lp_ae0, lp_aod1, lp_ae1, lp_aod2, lp_ae2, lp_aod3, lp_ae3, lp_hot_aod, lp_hot_ae, lp_hot_den), 79, 60, 35, 81)
pd = panel("Camaguey", groups(cm_aod0, cm_ae0, cm_aod1, cm_ae1, cm_aod2, cm_ae2, cm_aod3, cm_ae3, cm_hot_aod, cm_hot_ae, cm_hot_den), 71, 10, 35, 81)

# legend strip
leg = figure(width=1052, height=94, x_range=Range1d(0, 1052), y_range=Range1d(0, 94), min_border=0,
             output_backend="svg", toolbar_location=None, outline_line_color=None)
leg.axis.visible = False
leg.grid.visible = False
for xpos, names in ((265, legend_left), (626, legend_right)):
    leg.text([xpos] * 3, [72, 42, 12], text=names, text_color="#ff0000", text_font=value(FONT),
             text_font_style="bold", text_font_size="19px", text_align="left", text_baseline="middle")

# colour bar
cb = figure(frame_width=23, frame_height=607, min_border_left=11, min_border_right=23, min_border_top=12,
            min_border_bottom=12, x_range=Range1d(0, 1), y_range=Range1d(0, 8), y_axis_location="right",
            output_backend="svg", toolbar_location=None, outline_line_color=GRAY)
cb.grid.visible = False
cb.xaxis.visible = False
edges = [8 * i / 64 for i in range(65)]
cb.quad(left=0, right=1, bottom=edges[:-1], top=edges[1:], fill_color=palette, line_color=None)
ay = cb.yaxis[0]
ay.ticker = FixedTicker(ticks=cbar_ticks)
ay.major_tick_in = 4
ay.major_tick_out = 0
ay.minor_tick_line_color = None
ay.major_tick_line_color = GRAY
ay.axis_line_color = GRAY
ay.major_label_text_font = FONT
ay.major_label_text_font_size = "18px"
ay.major_label_text_color = TXT
ay.major_label_standoff = 4

page = row(column(row(pa, pb), row(pc, pd), leg), cb)
open("out.html", "w").write(file_html(page, INLINE))
